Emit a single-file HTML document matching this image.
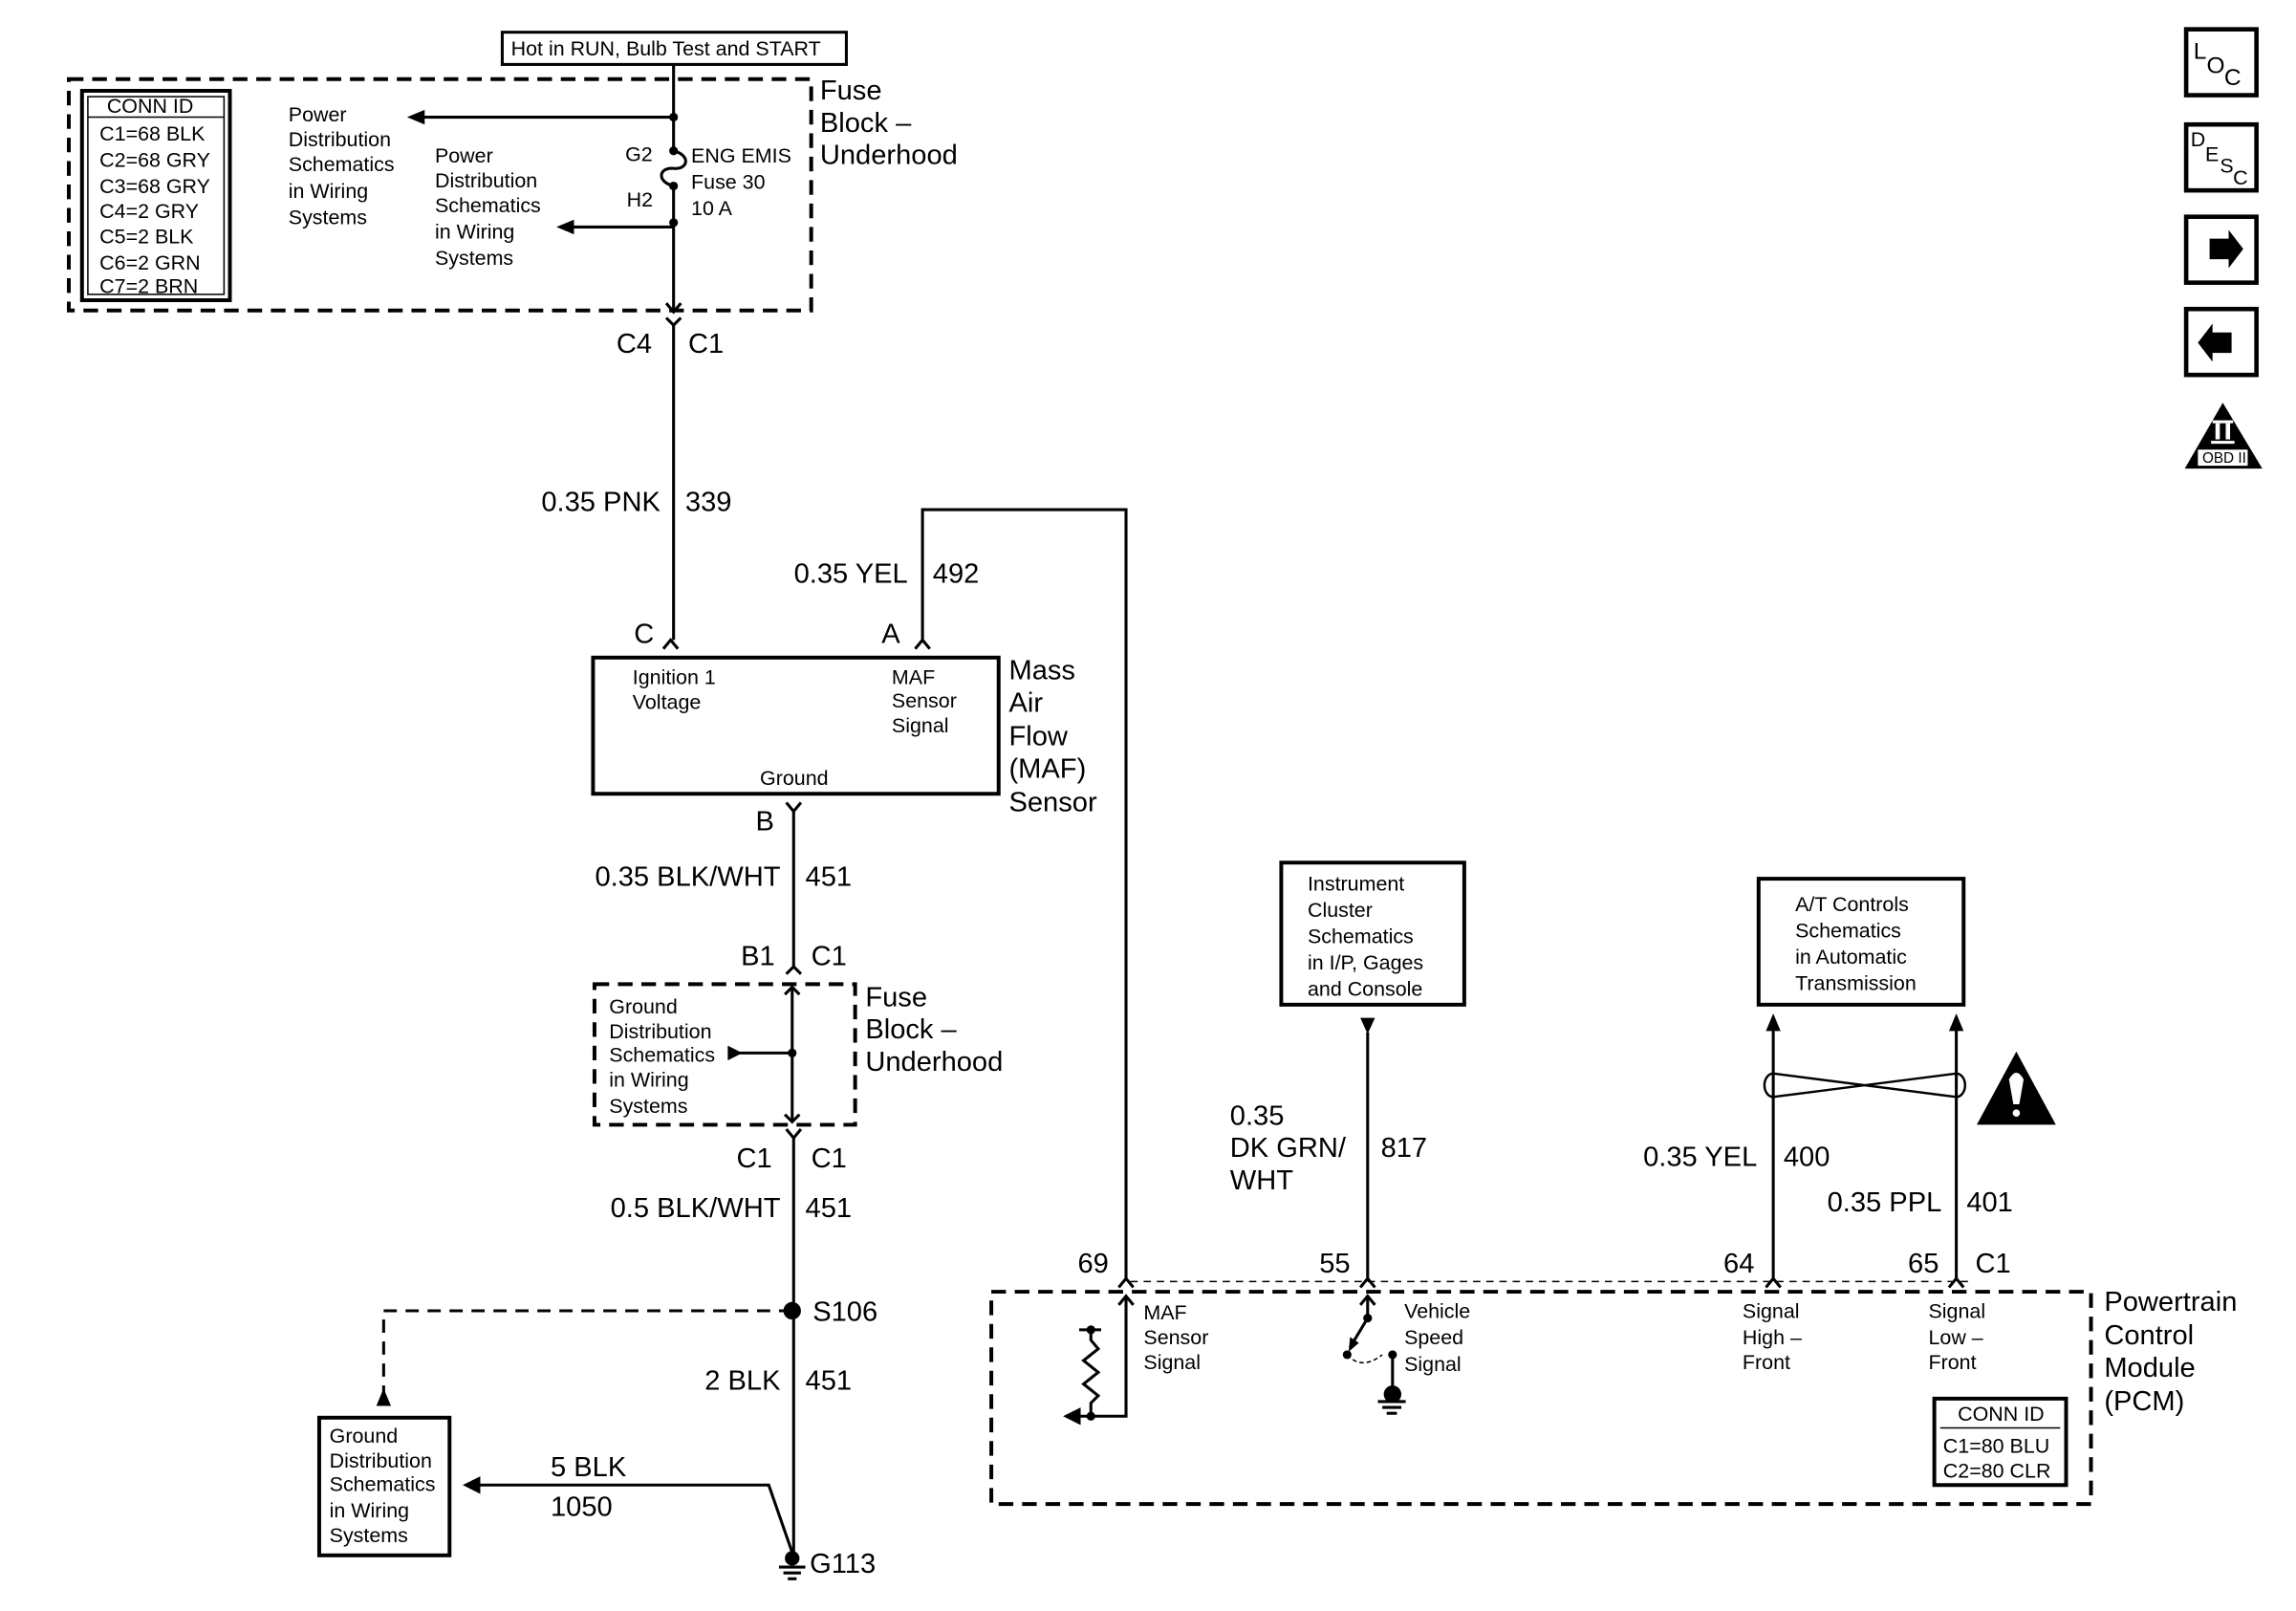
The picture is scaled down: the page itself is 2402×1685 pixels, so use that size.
<!DOCTYPE html>
<html><head><meta charset="utf-8"><style>
html,body{margin:0;padding:0;background:#fff;}
svg{display:block;}
text{font-family:"Liberation Sans",Arial,sans-serif;fill:#000;}
.s{font-size:14px;}
.b{font-size:19px;}
</style></head><body>
<svg width="2402" height="1685" viewBox="0 0 1568 1100" preserveAspectRatio="none" xmlns="http://www.w3.org/2000/svg">
<g stroke="#000" stroke-width="2" fill="none">
<rect x="343" y="22" width="235" height="22"/>
<rect x="47" y="54" width="507" height="158" stroke-width="2.6" stroke-dasharray="10,6"/>
<rect x="56" y="62" width="101" height="143" stroke-width="2.6"/>
<rect x="60" y="66" width="93" height="135" stroke-width="1"/>
<line x1="60" y1="80" x2="153" y2="80" stroke-width="1"/>
<line x1="460" y1="44" x2="460" y2="103"/>
<path d="M460 103 C472 106,470 116,460 115 C450 114,448 124,460 127"/>
<line x1="460" y1="127" x2="460" y2="213"/>
<polyline points="455,207 460,213 465,207"/>
<line x1="460" y1="80" x2="288" y2="80"/>
<line x1="460" y1="155" x2="390" y2="155"/>
<polyline points="455,217 460,222 465,217"/>
<line x1="460" y1="222" x2="460" y2="437"/>
<polyline points="453,443 458,437 463,443"/>
<polyline points="630,437 630,348 769,348 769,873"/>
<polyline points="625,443 630,437 635,443"/>
<polyline points="764,879 769,873 774,879"/>
<rect x="405" y="449" width="277" height="93" stroke-width="2.6"/>
<polyline points="537,548 542,554 547,548"/>
<line x1="542" y1="554" x2="542" y2="660"/>
<polyline points="537,665 542,660 547,665"/>
<rect x="406" y="672" width="178" height="96" stroke-width="2.6" stroke-dasharray="10,6"/>
<line x1="541" y1="674" x2="541" y2="766"/>
<polyline points="536,679 541,674 546,679"/>
<polyline points="536,761 541,766 546,761"/>
<line x1="505" y1="719" x2="541" y2="719"/>
<polyline points="537,771 542,777 547,771"/>
<line x1="542" y1="777" x2="542" y2="1062"/>
<polyline points="541,895 262,895 262,952" stroke-dasharray="9,6"/>
<rect x="218" y="968" width="89" height="94" stroke-width="2.6"/>
<polyline points="326,1014 525,1014 541,1060"/>
<line x1="532" y1="1070" x2="550" y2="1070"/>
<line x1="535" y1="1074" x2="547" y2="1074"/>
<line x1="538" y1="1078" x2="544" y2="1078"/>
<rect x="677" y="882" width="751" height="145" stroke-width="2.6" stroke-dasharray="10,6"/>
<line x1="772" y1="875" x2="1345" y2="875" stroke-width="1" stroke-dasharray="5,4"/>
<polyline points="764,891 769,885 774,891"/>
<polyline points="769,885 769,967 738,967"/>
<line x1="737" y1="908" x2="752" y2="908"/>
<polyline points="745,908 745,915 750,921 740,929 750,937 740,945 750,953 745,958 745,967"/>
<line x1="934" y1="705" x2="934" y2="873"/>
<polyline points="929,879 934,873 939,879"/>
<polyline points="929,891 934,885 939,891"/>
<line x1="934" y1="885" x2="934" y2="900"/>
<line x1="934" y1="900" x2="922" y2="920"/>
<path d="M920 925 Q930 936 944 925" stroke-width="1" stroke-dasharray="3,2"/>
<line x1="951" y1="925" x2="951" y2="950"/>
<line x1="941" y1="957" x2="960" y2="957"/>
<line x1="944" y1="961" x2="957" y2="961"/>
<line x1="947" y1="965" x2="954" y2="965"/>
<rect x="875" y="589" width="125" height="97" stroke-width="2.6"/>
<rect x="1201" y="600" width="140" height="86" stroke-width="2.6"/>
<line x1="1211" y1="703" x2="1211" y2="873"/>
<line x1="1336" y1="703" x2="1336" y2="873"/>
<polyline points="1206,879 1211,873 1216,879"/>
<polyline points="1331,879 1336,873 1341,879"/>
<path d="M1211 733 L1336 749 A6 8 0 0 0 1336 733 L1211 749 A6 8 0 0 1 1211 733" stroke-width="1.6"/>
<rect x="1321" y="955" width="90" height="59" stroke-width="2.6"/>
<line x1="1325" y1="975" x2="1407" y2="975" stroke-width="1"/>
<rect x="1493" y="20" width="48" height="45" stroke-width="3"/>
<rect x="1493" y="85" width="48" height="45" stroke-width="3"/>
<rect x="1493" y="148" width="48" height="45" stroke-width="3"/>
<rect x="1493" y="211" width="48" height="45" stroke-width="3"/>
</g>
<g fill="#000">
<circle cx="460" cy="80" r="3"/><circle cx="460" cy="103" r="3"/><circle cx="460" cy="127" r="3"/><circle cx="460" cy="152" r="3"/>
<polygon points="278,80 290,75 290,85"/>
<polygon points="380,155 392,150 392,160"/>
<circle cx="541" cy="719" r="3"/>
<polygon points="507,719 497,714 497,724"/>
<circle cx="541" cy="895" r="6"/>
<polygon points="262,948 257,960 267,960"/>
<polygon points="316,1014 328,1008 328,1020"/>
<circle cx="541" cy="1064" r="5"/>
<circle cx="745" cy="908" r="3"/><circle cx="745" cy="967" r="3"/>
<polygon points="726,967 738,961 738,973"/>
<circle cx="934" cy="900" r="3"/><circle cx="920" cy="925" r="3"/><circle cx="951" cy="925" r="3"/>
<polygon points="921,923 922,913 928,917"/>
<circle cx="951" cy="952" r="6"/>
<polygon points="934,706 929,695 939,695"/>
<polygon points="1211,692 1206,704 1216,704"/>
<polygon points="1336,692 1331,704 1341,704"/>
<polygon points="1377,718 1350,768 1404,768"/>
<polygon points="1509,163 1522,163 1522,157 1532,170 1522,183 1522,177 1509,177"/>
<polygon points="1524,227 1511,227 1511,221 1501,234 1511,247 1511,241 1524,241"/>
<polygon points="1518,275 1492,320 1545,320"/>
</g>
<g fill="#fff">
<path d="M1372 737 Q1377 728 1382 737 L1379 754 L1375 754 Z"/>
<circle cx="1377" cy="760" r="2.5"/>
<rect x="1511" y="287" width="14" height="2"/>
<rect x="1513" y="289" width="3" height="11"/><rect x="1520" y="289" width="3" height="11"/>
<rect x="1510" y="301" width="16" height="2"/>
<rect x="1501" y="307" width="34" height="11"/>
</g>
<text x="1504" y="316" style="font-size:10px">OBD II</text>
<text x="1498" y="40" style="font-size:16px">L</text><text x="1507" y="50" style="font-size:16px">O</text><text x="1519" y="58" style="font-size:16px">C</text>
<text x="1496" y="100" style="font-size:14px">D</text><text x="1506" y="110" style="font-size:14px">E</text><text x="1516" y="118" style="font-size:14px">S</text><text x="1525" y="126" style="font-size:14px">C</text>

<text x="349" y="38" class="s">Hot in RUN, Bulb Test and START</text>
<g class="s">
<text x="73" y="77">CONN ID</text>
<text x="68" y="96">C1=68 BLK</text><text x="68" y="114">C2=68 GRY</text><text x="68" y="132">C3=68 GRY</text><text x="68" y="149">C4=2 GRY</text><text x="68" y="166">C5=2 BLK</text><text x="68" y="184">C6=2 GRN</text><text x="68" y="200">C7=2 BRN</text>
<text x="197" y="83">Power</text><text x="197" y="100">Distribution</text><text x="197" y="117">Schematics</text><text x="197" y="135">in Wiring</text><text x="197" y="153">Systems</text>
<text x="297" y="111">Power</text><text x="297" y="128">Distribution</text><text x="297" y="145">Schematics</text><text x="297" y="163">in Wiring</text><text x="297" y="181">Systems</text>
<text x="427" y="110">G2</text><text x="428" y="141">H2</text>
<text x="472" y="111">ENG EMIS</text><text x="472" y="129">Fuse 30</text><text x="472" y="147">10 A</text>
<text x="432" y="467">Ignition 1</text><text x="432" y="484">Voltage</text>
<text x="609" y="467">MAF</text><text x="609" y="483">Sensor</text><text x="609" y="500">Signal</text>
<text x="519" y="536">Ground</text>
<text x="416" y="692">Ground</text><text x="416" y="709">Distribution</text><text x="416" y="725">Schematics</text><text x="416" y="742">in Wiring</text><text x="416" y="760">Systems</text>
<text x="225" y="985">Ground</text><text x="225" y="1002">Distribution</text><text x="225" y="1018">Schematics</text><text x="225" y="1036">in Wiring</text><text x="225" y="1053">Systems</text>
<text x="781" y="901">MAF</text><text x="781" y="918">Sensor</text><text x="781" y="935">Signal</text>
<text x="959" y="900">Vehicle</text><text x="959" y="918">Speed</text><text x="959" y="936">Signal</text>
<text x="893" y="608">Instrument</text><text x="893" y="626">Cluster</text><text x="893" y="644">Schematics</text><text x="893" y="662">in I/P, Gages</text><text x="893" y="680">and Console</text>
<text x="1226" y="622">A/T Controls</text><text x="1226" y="640">Schematics</text><text x="1226" y="658">in Automatic</text><text x="1226" y="676">Transmission</text>
<text x="1190" y="900">Signal</text><text x="1190" y="918">High –</text><text x="1190" y="935">Front</text>
<text x="1317" y="900">Signal</text><text x="1317" y="918">Low –</text><text x="1317" y="935">Front</text>
<text x="1337" y="970">CONN ID</text><text x="1327" y="992">C1=80 BLU</text><text x="1327" y="1009">C2=80 CLR</text>
</g>
<g class="b">
<text x="560" y="68">Fuse</text><text x="560" y="90">Block –</text><text x="560" y="112">Underhood</text>
<text x="421" y="241">C4</text><text x="470" y="241">C1</text>
<text x="451" y="349" text-anchor="end">0.35 PNK</text><text x="468" y="349">339</text>
<text x="620" y="398" text-anchor="end">0.35 YEL</text><text x="637" y="398">492</text>
<text x="433" y="439">C</text><text x="602" y="439">A</text>
<text x="689" y="464">Mass</text><text x="689" y="486">Air</text><text x="689" y="509">Flow</text><text x="689" y="531">(MAF)</text><text x="689" y="554">Sensor</text>
<text x="516" y="567">B</text>
<text x="533" y="605" text-anchor="end">0.35 BLK/WHT</text><text x="550" y="605">451</text>
<text x="506" y="659">B1</text><text x="554" y="659">C1</text>
<text x="591" y="687">Fuse</text><text x="591" y="709">Block –</text><text x="591" y="731">Underhood</text>
<text x="503" y="797">C1</text><text x="554" y="797">C1</text>
<text x="533" y="831" text-anchor="end">0.5 BLK/WHT</text><text x="550" y="831">451</text>
<text x="555" y="902">S106</text>
<text x="533" y="949" text-anchor="end">2 BLK</text><text x="550" y="949">451</text>
<text x="376" y="1008">5 BLK</text><text x="376" y="1035">1050</text>
<text x="553" y="1074">G113</text>
<text x="736" y="869">69</text><text x="901" y="869">55</text><text x="1177" y="869">64</text><text x="1303" y="869">65</text><text x="1349" y="869">C1</text>
<text x="840" y="768">0.35</text><text x="840" y="790">DK GRN/</text><text x="840" y="812">WHT</text><text x="943" y="790">817</text>
<text x="1200" y="796" text-anchor="end">0.35 YEL</text><text x="1218" y="796">400</text>
<text x="1326" y="827" text-anchor="end">0.35 PPL</text><text x="1343" y="827">401</text>
<text x="1437" y="895">Powertrain</text><text x="1437" y="918">Control</text><text x="1437" y="940">Module</text><text x="1437" y="963">(PCM)</text>
</g>
</svg>
</body></html>
